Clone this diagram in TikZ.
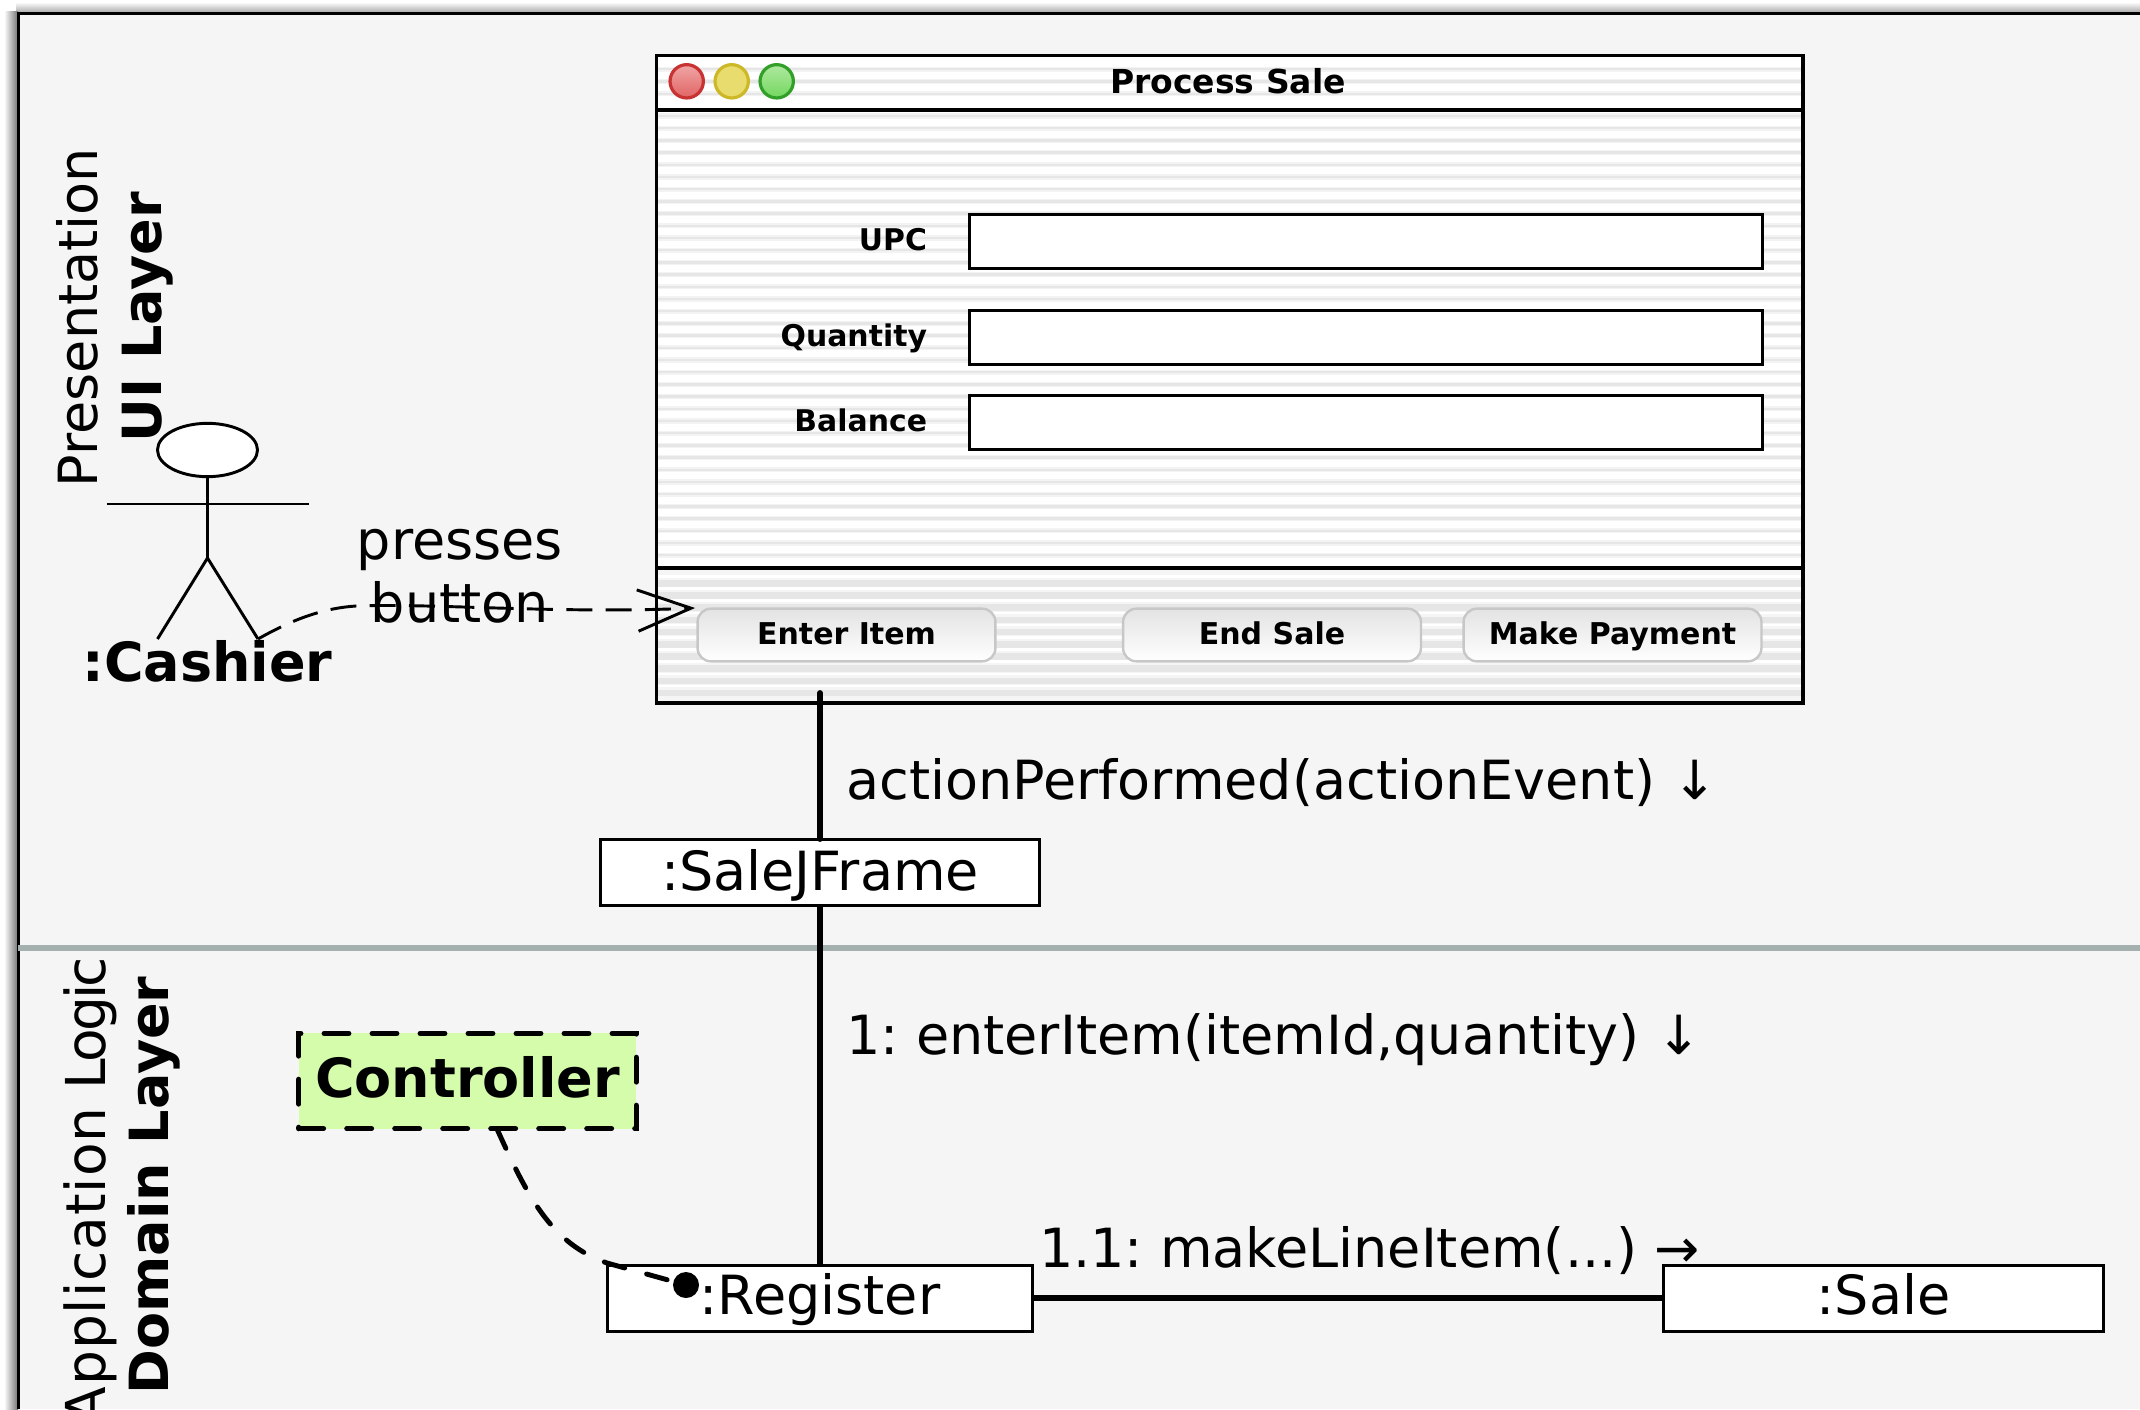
\documentclass[tikz,border=0pt]{standalone}
\usepackage{fontspec}
\setmainfont{DejaVu Sans}
\usetikzlibrary{arrows.meta,shapes.geometric}
\newcommand{\fsz}[1]{\fontsize{#1}{#1}\selectfont}
\definecolor{bgc}{HTML}{F5F5F5}
\definecolor{sepc}{HTML}{A3B0AD}
\definecolor{ctrlc}{HTML}{D5FCAB}
\definecolor{stripec}{HTML}{E6E6E6}
\definecolor{stripesoft}{HTML}{F3F3F3}
\tikzset{
  x=0.75pt,y=-0.75pt,
  every node/.style={inner sep=0pt,outer sep=0pt,execute at begin node=\frenchspacing},
  big/.style={font=\fsz{40.5pt}},
  bigb/.style={font=\fsz{40.5pt}\bfseries},
  small/.style={font=\fsz{22.4pt}\bfseries},
  btnfont/.style={font=\fsz{22.5pt}\bfseries},
  field/.style={draw=black,line width=2.25pt,fill=white,minimum width=594.75pt,minimum height=40.5pt,anchor=north west},
  uibtn/.style={draw=black!22,line width=1.8pt,rounded corners=10pt,top color=black!11,bottom color=white,minimum width=223.4pt,minimum height=39.5pt,btnfont,text height=13.6pt,text depth=0pt},
  objbox/.style={draw=black,line width=2.25pt,fill=white,minimum height=49.5pt,big,text height=25pt,text depth=0pt},
  lite/.style={circle,line width=2.4pt,minimum size=25pt},
  wline/.style={line width=2.3pt,draw=black},
  stick/.style={line width=2.2pt,draw=black},
  msg/.style={line width=4.4pt,draw=black},
  stripesoftline/.style={line width=3.9pt,draw=stripesoft},
  stripeline/.style={line width=1.7pt,draw=stripec}
}
\begin{document}
\begin{tikzpicture}
\useasboundingbox (0,0) rectangle (2140,1409);
\clip (0,0) rectangle (2140,1409);
% surrounding shadow and page
\fill[white] (0,0) rectangle (2140,1409);
\shade[top color=white,bottom color=black!35] (16,2) rectangle (2140,13);
\shade[left color=white,right color=black!55] (4,12) rectangle (18,1409);
\fill[bgc] (18,13) rectangle (2140,1409);
\draw[line width=2.4pt] (18.5,1409) -- (18.5,13.5) -- (2140,13.5);
\draw[sepc,line width=4.6pt] (18,948) -- (2140,948);
% layer titles
\node[big,rotate=90,anchor=base] (presentation) at (97,317.5) {Presentation};
\node[bigb,rotate=90,anchor=base] (uilayer) at (161,317) {UI Layer};
\node[font=\fsz{41.25pt},rotate=90,anchor=base east] (applogic) at (105,957) {{\addfontfeature{LetterSpace=1.8}Application} {\addfontfeature{LetterSpace=-5}Logic}};
\node[bigb,rotate=90,anchor=base] (domainlayer) at (168,1185.5) {Domain Layer};
% window
\fill[white] (656.5,55.5) rectangle (1803,568);
\fill[bgc] (656.5,568) rectangle (1803,703);
\begin{scope}
\clip (656.5,55.5) rectangle (1803,703);
\foreach \yy in {69.3,81.5,93.7} {
  \draw[stripesoftline] (656,\yy) -- (1804,\yy);
  \draw[stripeline] (656,\yy) -- (1804,\yy);
}
\foreach \nn in {0,...,36} {
  \draw[stripesoftline] (656,116+12.2*\nn) -- (1804,116+12.2*\nn);
  \draw[stripeline] (656,116+12.2*\nn) -- (1804,116+12.2*\nn);
}
\foreach \nn in {0,...,9} {
  \draw[line width=5pt,draw=stripec] (656,583.3+12.2*\nn) -- (1804,583.3+12.2*\nn);
  \draw[line width=2pt,draw=white] (656,576.3+12.2*\nn) -- (1804,576.3+12.2*\nn);
}
\end{scope}
\draw[wline] (656.5,55.5) rectangle (1803,703);
\draw[line width=2.8pt] (656.5,110) -- (1803,110);
\draw[wline] (656.5,568) -- (1803,568);
\node[lite,draw={rgb,255:red,200;green,50;blue,50},top color={rgb,255:red,240;green,165;blue,165},bottom color={rgb,255:red,225;green,100;blue,100}] (lred) at (686.7,81.3) {};
\node[lite,draw={rgb,255:red,205;green,185;blue,40},fill={rgb,255:red,232;green,220;blue,110}] (lyellow) at (731.7,81.3) {};
\node[lite,draw={rgb,255:red,50;green,160;blue,40},top color={rgb,255:red,175;green,232;blue,160},bottom color={rgb,255:red,115;green,216;blue,95}] (lgreen) at (776.7,81.3) {};
\node[font=\fsz{24.75pt}\bfseries] (title) at (1228,81) {Process Sale};
\node[field] (fupc) at (969,214) {};
\node[field] (fqty) at (969,310) {};
\node[field] (fbal) at (969,395.5) {};
\node[small,anchor=base east] (lupc) at (927,250) {UPC};
\node[small,anchor=base east] (lqty) at (927,346.7) {Quantity};
\node[small,anchor=base east] (lbal) at (927,431.7) {Balance};
\node[uibtn] (benter) at (846.5,635) {Enter Item};
\node[uibtn] (bend) at (1272,635) {End Sale};
\node[uibtn] (bpay) at (1612.5,635) {Make Payment};
% actor
\node[draw=black,line width=2.2pt,fill=white,ellipse,minimum width=75pt,minimum height=40pt] (head) at (207.5,450) {};
\coordinate (hips) at (207.5,558);
\coordinate (footl) at (157.5,639);
\coordinate (footr) at (258,639);
\coordinate (arml) at (106.5,504);
\coordinate (armr) at (309,504);
\draw[stick] (head.south) -- (hips);
\draw[stick] (arml) -- (armr);
\draw[stick] (footl) -- (hips) -- (footr);
\node[bigb,anchor=base] (cashier) at (207.5,681) {:Cashier};
% presses button
\node[big,anchor=base] (presses) at (460,559.5) {presses};
\node[big,anchor=base] (pbutton) at (460,622) {button};
\coordinate (arrowtip) at (695,608);
\draw[line width=2.2pt,dash pattern=on 19.5pt off 10pt,-{Straight Barb[length=40pt,width=31pt,line width=2.2pt]}]
  (footr) .. controls (295,618) and (325,608) .. (356,606) .. controls (430,603) and (560,614) .. (arrowtip);
% objects and messages
\coordinate (linetop) at (820,693);
\node[objbox,minimum width=329.5pt,text height=27pt] (frame) at (820,872) {:SaleJFrame};
\node[objbox,minimum width=318.5pt] (register) at (820,1298) {:Register};
\node[objbox,minimum width=329.5pt] (sale) at (1883.5,1298) {:Sale};
\draw[msg,line cap=round] (linetop) -- (frame.north);
\draw[msg] (frame.south) -- (register.north);
\draw[msg] (register.east) -- (sale.west);
\node[big,anchor=base west] (m0) at (846.5,799) {actionPerformed(actionEvent) ↓};
\node[big,anchor=base west] (m1) at (846.5,1054) {1: enterItem(itemId,quantity) ↓};
\node[big,anchor=base west] (m2) at (1039,1267) {1.1: makeLineItem(...) →};
% controller
\node[draw=black,line width=3.9pt,fill=ctrlc,line cap=round,dash pattern=on 18.5pt off 17.5pt,minimum width=253pt,minimum height=71.5pt,bigb,text height=24.5pt,text depth=0pt] (controller) at (467.5,1081) {Controller};
\node[circle,fill=black,minimum size=19.5pt] (dot) at (686,1285) {};
\coordinate (cstart) at (497,1129);
\coordinate (cmid) at (607,1263);
\draw[line width=3.7pt,line cap=round,dash pattern=on 16pt off 17pt] (cstart) .. controls (527,1195) and (550,1243) .. (cmid) -- (dot.center);
\end{tikzpicture}
\end{document}
